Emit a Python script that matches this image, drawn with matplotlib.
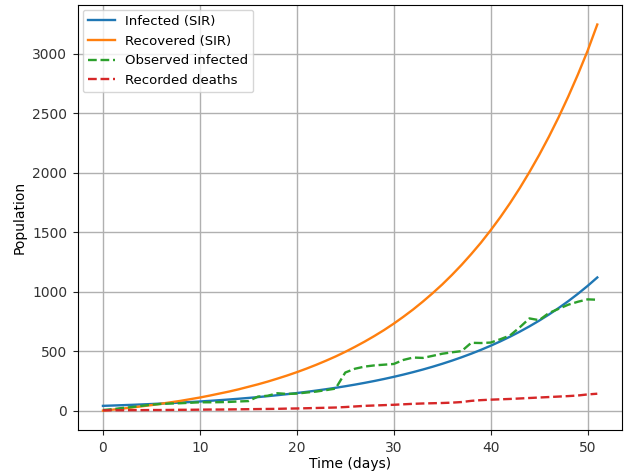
import matplotlib
matplotlib.use("Agg")
import matplotlib.pyplot as plt
import numpy as np

days = np.arange(52)

# SIR model output
infected_sir = [40, 42.7, 45.6, 48.6, 51.9, 55.4, 59.2, 63.2, 67.4, 72.0,
                76.8, 82.0, 87.6, 93.5, 99.8, 106.5, 113.7, 121.4, 129.6, 138.3,
                147.7, 157.6, 168.3, 179.6, 191.8, 204.7, 218.5, 233.3, 249.0, 265.8,
                283.8, 302.9, 323.4, 345.2, 368.5, 393.4, 419.9, 448.3, 478.5, 510.8,
                545.3, 582.1, 621.4, 663.4, 708.2, 756.0, 807.0, 861.5, 919.6, 981.7,
                1048, 1119]
recovered_sir = [0, 8, 17, 26, 36, 46, 58, 70, 82, 96,
                 110, 126, 143, 160, 179, 200, 221, 244, 269, 295,
                 323, 353, 385, 419, 455, 494, 536, 580, 627, 677,
                 731, 789, 850, 916, 986, 1060, 1140, 1225, 1316, 1412,
                 1516, 1626, 1744, 1870, 2005, 2148, 2301, 2464, 2639, 2825,
                 3024, 3245]

# observed data
observed_infected = [5, 12, 22, 30, 40, 50, 56, 60, 62, 66,
                     70, 70, 71, 73, 77, 80, 118, 125, 146, 140,
                     143, 152, 160, 172, 185, 320, 352, 370, 380, 386,
                     392, 426, 446, 443, 460, 478, 490, 500, 570, 568,
                     572, 600, 632, 700, 775, 760, 820, 855, 890, 915,
                     935, 932]
recorded_deaths = [2, 3, 3, 4, 4, 5, 5, 6, 7, 7,
                   8, 9, 9, 10, 11, 12, 13, 14, 15, 17,
                   18, 20, 22, 24, 26, 30, 35, 40, 43, 46,
                   49, 53, 57, 60, 62, 64, 67, 72, 82, 88,
                   92, 95, 98, 102, 106, 110, 114, 118, 122, 127,
                   136, 142]

fig, ax = plt.subplots(figsize=(6.36, 4.74), dpi=100)
fig.subplots_adjust(left=0.123, right=0.978, bottom=0.093, top=0.989)

ax.plot(days, infected_sir, label='Infected (SIR)', lw=1.7)
ax.plot(days, recovered_sir, label='Recovered (SIR)', lw=1.7)
ax.plot(days, observed_infected, '--', label='Observed infected', lw=1.7)
ax.plot(days, recorded_deaths, '--', label='Recorded deaths', lw=1.7)

ax.set_xlabel('Time (days)', labelpad=1.5)
ax.set_ylabel('Population')
ax.tick_params(colors='#222222', labelcolor='#333333', pad=4.5)
ax.grid(True, color='#b0b0b0', lw=1)
ax.legend(loc='upper left', fontsize=9.5, borderaxespad=0.35)

fig.savefig('out.png')
